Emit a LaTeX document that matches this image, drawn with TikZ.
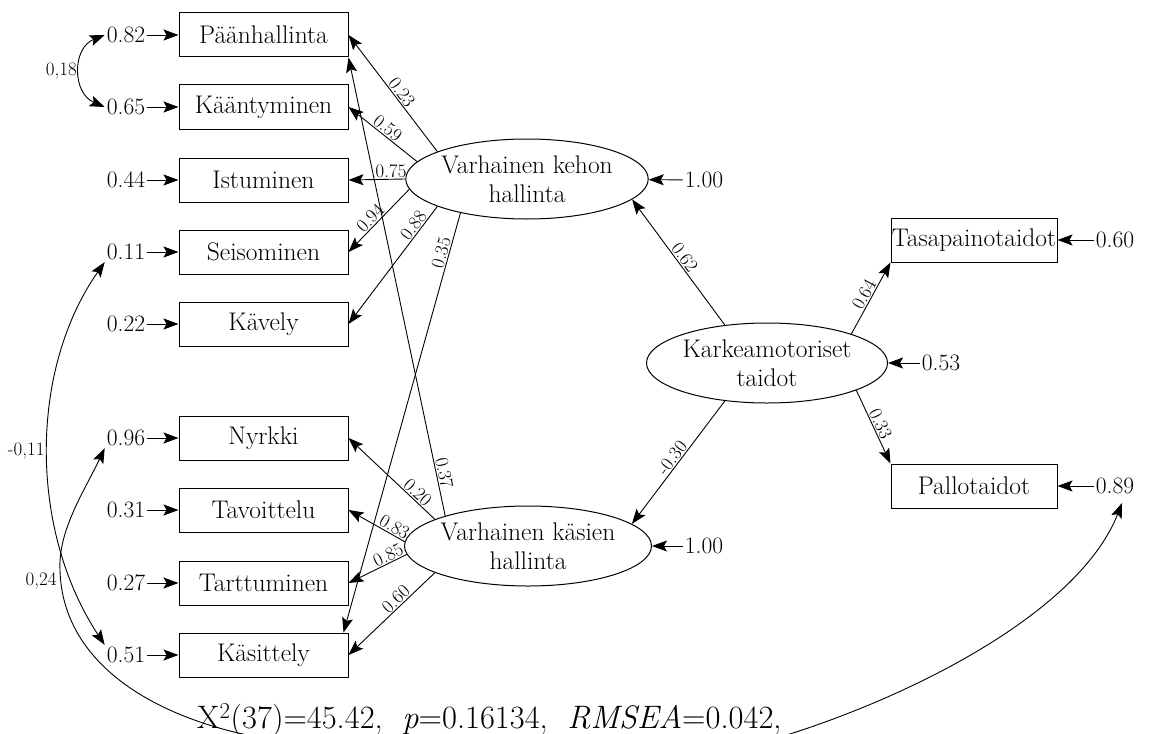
\documentclass[tikz,border=0pt]{standalone}
\usetikzlibrary{shapes.geometric,arrows.meta}
\begin{document}
\begin{tikzpicture}[x=1pt,y=-1pt,
  every node/.style={font=\fontsize{25.5}{29}\selectfont},
  box/.style={draw,line width=1pt,minimum width=169pt,minimum height=44pt,inner sep=0pt},
  lat/.style={draw,ellipse,line width=1pt,minimum width=241pt,minimum height=80pt,inner sep=0pt,align=center},
  err/.style={inner sep=2pt,font=\fontsize{23.5}{28}\selectfont},
  ar/.style={line width=0.9pt,-{Stealth[length=15pt,width=11pt,inset=3pt]}},
  cov/.style={line width=0.9pt,{Stealth[length=15pt,width=11pt,inset=3pt]}-{Stealth[length=15pt,width=11pt,inset=3pt]}},
  lbl/.style={font=\fontsize{19}{22}\selectfont,inner sep=1pt},
]
\useasboundingbox (0,0) rectangle (1150,733);
\clip (0,0) rectangle (1150,733);

% observed boxes
\node[box] (b1) at (263.5,35) {Päänhallinta};
\node[box] (b2) at (263.5,107) {Kääntyminen};
\node[box] (b3) at (263.5,180) {Istuminen};
\node[box] (b4) at (263.5,252) {Seisominen};
\node[box] (b5) at (263.5,324) {Kävely};
\node[box] (b6) at (263.5,438) {Nyrkki};
\node[box] (b7) at (263.5,510) {Tavoittelu};
\node[box] (b8) at (263.5,583) {Tarttuminen};
\node[box] (b9) at (263.5,655) {Käsittely};
\node[box,minimum width=166pt] (tasa) at (974,240) {Tasapainotaidot};
\node[box,minimum width=166pt] (pallo) at (974,486) {Pallotaidot};

% latent variables
\node[lat] (kehon) at (527,179) {Varhainen kehon\\hallinta};
\node[lat] (kaesi) at (528,546) {Varhainen käsien\\hallinta};
\node[lat] (karkea) at (767,363) {Karkeamotoriset\\taidot};

% error terms
\node[err] (e1) at (126,35) {0.82};
\node[err] (e2) at (126,107) {0.65};
\node[err] (e3) at (126,180) {0.44};
\node[err] (e4) at (126,252) {0.11};
\node[err] (e5) at (126,324) {0.22};
\node[err] (e6) at (126,438) {0.96};
\node[err] (e7) at (126,510) {0.31};
\node[err] (e8) at (126,583) {0.27};
\node[err] (e9) at (126,655) {0.51};
\node[err] (r1) at (1115,240) {0.60};
\node[err] (r2) at (1115,486) {0.89};
\node[err] (u1) at (704,180) {1.00};
\node[err] (u2) at (704,546) {1.00};
\node[err] (u3) at (941,363) {0.53};
\coordinate (t89) at (1122,503);

\foreach \i in {1,...,9} {\draw[ar] (e\i) -- (b\i);}
\draw[ar] (r1) -- (tasa);
\draw[ar] (r2) -- (pallo);
\draw[ar] (u1) -- (kehon);
\draw[ar] (u2) -- (kaesi);
\draw[ar] (u3) -- (karkea);

% loadings from kehon
\draw[ar] (kehon.163) -- node[lbl,sloped,above,pos=0.47]{0.23} (b1.east);
\draw[ar] (kehon.171) -- node[lbl,sloped,above,pos=0.5]{0.59} (b2.east);
\draw[ar] (kehon.west) -- node[lbl,sloped,above,pos=0.25]{0.75} (b3.east);
\draw[ar] (kehon.185) -- node[lbl,sloped,above,pos=0.55]{0.94} (b4.east);
\draw[ar] (kehon.197) -- node[lbl,sloped,above,pos=0.2]{0.88} (b5.east);
\draw[ar] (kehon.207) -- node[lbl,sloped,above,pos=0.1]{0.35} ([xshift=-5pt]b9.north east);

% loadings from kaesi
\draw[ar] (kaesi.160) -- node[lbl,sloped,above,pos=0.09]{0.37} (b1.south east);
\draw[ar] (kaesi.164) -- node[lbl,sloped,above,pos=0.26]{0.20} (b6.east);
\draw[ar] (kaesi.178) -- node[lbl,sloped,above,pos=0.25]{0.83} (b7.east);
\draw[ar] (kaesi.184) -- node[lbl,sloped,above,pos=0.26]{0.85} (b8.east);
\draw[ar] (kaesi.196) -- node[lbl,sloped,above,pos=0.39]{0.60} (b9.east);

% structural paths
\draw[ar] (karkea.138) -- node[lbl,sloped,above,pos=0.5]{0.62} (kehon.349);
\draw[ar] (karkea.222) -- node[lbl,sloped,above,pos=0.5]{-0.30} (kaesi.12);
\draw[ar] (karkea.19) -- node[lbl,sloped,above,pos=0.5]{0.64} (tasa.south west);
\draw[ar] (karkea.343) -- node[lbl,sloped,above,pos=0.5]{0.33} (pallo.north west);

% covariances
\draw[cov] (e1.west) .. controls (72,48) and (72,93) .. node[lbl,left,inner sep=3pt]{0,18} (e2.west);
\draw[cov] (e4.south west) .. controls (29,370) and (29,530) .. node[lbl,left,inner sep=3pt]{-0,11} (e9.north west);
\draw[cov] (e6.south west) .. controls (85,490) and (58,530) .. (60,570) node[lbl,left,inner sep=3pt,yshift=-11pt]{0,24}
  .. controls (62,650) and (130,705) .. (230,731)
  .. controls (330,757) and (653,779) .. (793,733)
  .. controls (920,692) and (1080,610) .. (t89);

% fit statistics
\node[anchor=base west,inner sep=0pt,font=\fontsize{32.5}{37}\selectfont] (fit) at (197,728)
  {X\textsuperscript{2}(37)=45.42,\ \ \textit{p}=0.16134,\ \ \textit{RMSEA}=0.042,};
\end{tikzpicture}
\end{document}
